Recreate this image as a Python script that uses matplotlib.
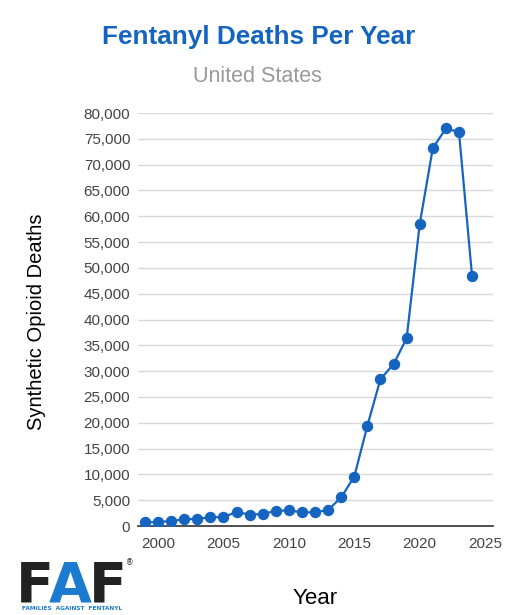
import matplotlib
matplotlib.use("Agg")
import matplotlib.pyplot as plt
from matplotlib.ticker import FuncFormatter, MultipleLocator

years = [1999, 2000, 2001, 2002, 2003, 2004, 2005, 2006, 2007, 2008, 2009, 2010,
         2011, 2012, 2013, 2014, 2015, 2016, 2017, 2018, 2019, 2020, 2021, 2022,
         2023, 2024]
deaths = [730, 782, 957, 1295, 1400, 1664, 1742, 2707, 2213, 2306, 2946, 3007,
          2666, 2628, 3105, 5544, 9580, 19413, 28466, 31335, 36359, 58500, 73200,
          77000, 76300, 48400]

title = "Fentanyl Deaths Per Year"
subtitle = "United States"
xlabel = "Year"
ylabel = "Synthetic Opioid Deaths"

FONT = "Liberation Sans"
BLUE = "#1565c0"
W, H = 516, 615

fig = plt.figure(figsize=(W/100, H/100), dpi=100)
ax = fig.add_axes([138/W, 89/H, (493-138)/W, (526-113)/H])

ax.plot(years, deaths, color=BLUE, lw=1.6, marker="o", ms=7.2, mec=BLUE, mfc=BLUE, zorder=3)
ax.set_xlim(1998.47, 2025.6)
ax.set_ylim(0, 80000)
ax.yaxis.set_major_locator(MultipleLocator(5000))
ax.xaxis.set_major_locator(MultipleLocator(5))
ax.yaxis.set_major_formatter(FuncFormatter(lambda v, p: f"{int(v):,}"))
ax.grid(axis="y", color="#d9d9d9", lw=1)
ax.set_axisbelow(True)
for s in ["top", "right", "left"]:
    ax.spines[s].set_visible(False)
ax.spines["bottom"].set_color("#333333")
ax.spines["bottom"].set_linewidth(1.2)
ax.tick_params(length=0, labelsize=11, colors="#444444")
ax.tick_params(axis="x", pad=8)
ax.tick_params(axis="y", pad=5.5)
for lab in ax.get_xticklabels() + ax.get_yticklabels():
    lab.set_fontfamily(FONT)

fig.text(259/W, 1 - 37/H, title, ha="center", va="center", fontsize=18.8,
         fontweight="bold", color=BLUE, family=FONT)
fig.text(257/W, 1 - 76/H, subtitle, ha="center", va="center", fontsize=15.5,
         color="#999999", family=FONT)
fig.text(37/W, 1 - 322/H, ylabel, rotation=90, ha="center", va="center",
         fontsize=14.5, color="black", family=FONT)
fig.text(315/W, 1 - 598/H, xlabel, ha="center", va="center",
         fontsize=16, color="black", family=FONT)

# logo
LBLUE = "#1a7bd0"
fig.text(35/W, 1 - 602/H, "F", ha="center", va="baseline", fontsize=40,
         fontweight="heavy", color="#222222", family="DejaVu Sans")
fig.text(70/W, 1 - 602/H, "A", ha="center", va="baseline", fontsize=40,
         fontweight="heavy", color=LBLUE, family="DejaVu Sans")
fig.text(108/W, 1 - 602/H, "F", ha="center", va="baseline", fontsize=40,
         fontweight="heavy", color="#222222", family="DejaVu Sans")
fig.text(130/W, 1 - 563/H, "®", ha="center", va="center", fontsize=5.5,
         color="#222222", family="DejaVu Sans")
fig.text(72/W, 1 - 608/H, "FAMILIES  AGAINST  FENTANYL", ha="center", va="center",
         fontsize=4.2, fontweight="bold", color=LBLUE, family="DejaVu Sans")

fig.savefig("out.png", dpi=100)
